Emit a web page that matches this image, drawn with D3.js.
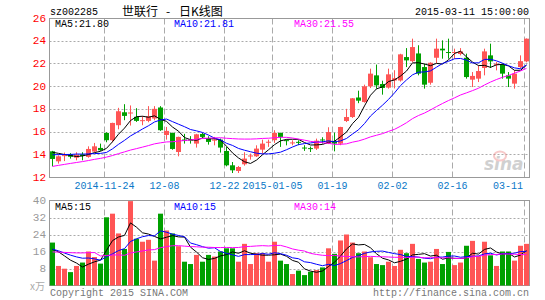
<!DOCTYPE html>
<html>
<head>
<meta charset="utf-8">
<script src="https://cdn.jsdelivr.net/npm/d3@7"></script>
<style>
body{margin:0;background:#fff;}
svg{display:block;}
text{font-family:"Liberation Mono","DejaVu Sans Mono",monospace;font-size:10px;}
</style>
</head>
<body>
<svg id="chart" width="545" height="300"></svg>
<script>

// trading days shown (80 sessions)
var dates = [
    "2014-11-11","2014-11-12","2014-11-13","2014-11-14","2014-11-17","2014-11-18","2014-11-19","2014-11-20","2014-11-21",
    "2014-11-24","2014-11-25","2014-11-26","2014-11-27","2014-11-28",
    "2014-12-01","2014-12-02","2014-12-03","2014-12-04","2014-12-05",
    "2014-12-08","2014-12-09","2014-12-10","2014-12-11","2014-12-12",
    "2014-12-15","2014-12-16","2014-12-17","2014-12-18","2014-12-19",
    "2014-12-22","2014-12-23","2014-12-24","2014-12-25","2014-12-26",
    "2014-12-29","2014-12-30","2014-12-31",
    "2015-01-05","2015-01-06","2015-01-07","2015-01-08","2015-01-09",
    "2015-01-12","2015-01-13","2015-01-14","2015-01-15","2015-01-16",
    "2015-01-19","2015-01-20","2015-01-21","2015-01-22","2015-01-23",
    "2015-01-26","2015-01-27","2015-01-28","2015-01-29","2015-01-30",
    "2015-02-02","2015-02-03","2015-02-04","2015-02-05","2015-02-06",
    "2015-02-09","2015-02-10","2015-02-11","2015-02-12","2015-02-13",
    "2015-02-16","2015-02-17","2015-02-25","2015-02-26","2015-02-27",
    "2015-03-02","2015-03-03","2015-03-04","2015-03-05","2015-03-06",
    "2015-03-09","2015-03-10","2015-03-11"
];

var open = [14.26,13.38,13.8,14.0,13.7,14.0,13.77,14.24,14.56,15.88,
    15.24,16.56,17.7,17.59,17.3,16.92,16.94,17.15,18.12,15.7,
    15.88,14.2,15.3,15.3,14.94,15.79,15.44,15.2,15.29,14.29,
    13.03,12.53,13.12,13.8,13.82,14.41,15.0,15.24,15.88,15.2,
    14.95,15.05,14.55,14.5,14.5,15.26,14.94,15.14,14.94,16.93,
    17.28,19.0,18.6,19.98,20.95,20.19,19.87,20.5,20.5,22.56,
    22.2,22.88,21.68,20.3,22.5,23.3,22.96,22.9,22.83,22.5,
    20.57,20.66,21.6,22.71,21.86,21.89,20.95,20.22,21.68,22.18];

var high = [14.3,13.9,14.15,14.1,14.18,14.18,14.7,15.0,14.94,15.94,
    16.78,18.09,18.41,18.3,18.06,17.35,18.24,18.24,18.24,16.41,
    15.9,15.55,15.8,15.6,15.8,15.88,15.59,15.53,15.38,14.65,
    13.32,12.97,14.18,14.06,14.79,15.29,15.29,16.12,15.9,15.29,
    15.23,15.23,14.8,14.68,15.38,15.5,16.38,15.9,16.42,18.0,
    18.95,19.6,20.13,21.54,21.9,20.48,21.54,21.4,22.85,23.35,
    24.18,23.6,21.98,22.1,24.18,24.03,24.18,23.3,23.35,22.86,
    21.24,21.83,23.3,23.74,22.12,21.98,21.24,21.39,22.71,24.2];

var low = [12.94,13.18,13.4,13.62,13.47,13.47,13.7,14.18,14.3,15.06,
    15.06,16.2,17.0,16.53,16.85,16.56,16.82,17.0,16.06,15.29,
    14.4,13.82,14.94,14.94,14.59,15.44,14.85,14.79,14.15,12.94,
    12.35,12.35,13.0,13.53,13.76,14.06,14.65,15.0,14.65,14.79,
    14.8,14.8,14.3,14.2,14.38,14.94,14.9,14.26,14.8,16.84,
    17.2,18.5,18.55,19.83,19.78,19.25,19.78,19.8,20.4,21.68,
    22.1,20.95,19.78,20.13,22.0,22.42,22.42,22.42,22.71,20.66,
    19.92,20.36,20.95,21.6,21.39,20.66,19.92,19.78,21.54,22.1];

var close = [13.59,13.82,13.88,13.78,13.94,13.85,14.47,14.7,14.35,15.24,
    16.76,17.79,17.38,17.68,16.94,16.96,17.35,18.0,16.12,16.06,
    14.47,15.53,15.18,15.2,15.76,15.53,15.09,15.3,14.59,13.03,
    12.59,12.88,13.62,13.85,14.5,14.94,15.06,15.88,15.53,15.15,
    15.0,15.0,14.5,14.44,15.2,15.2,15.96,14.94,16.4,17.28,
    18.93,18.72,19.98,21.1,20.07,19.84,21.04,20.7,22.8,22.27,
    23.44,21.1,20.13,22.06,23.3,23.15,22.9,22.96,23.06,20.8,
    20.9,21.33,23.06,22.18,21.92,21.1,20.66,21.1,22.2,24.18];

// volume, in 10k lots (x万)
var volume = [20.2,9.2,7.9,6.3,9.2,10.8,16.0,13.4,10.3,32.1,
    33.8,24.5,17.2,39.7,22.0,20.6,21.5,11.7,33.8,25.9,
    24.5,18.5,11.2,10.1,14.4,11.2,14.4,13.6,16.0,17.5,
    17.5,11.2,19.6,10.1,15.2,15.2,11.2,20.6,11.7,10.1,
    5.4,7.0,4.9,6.5,7.3,8.5,17.5,14.9,21.2,24.0,
    20.2,15.2,16.0,13.3,10.1,9.6,11.2,9.2,16.8,15.2,
    19.6,12.5,10.8,11.2,17.2,10.1,15.8,9.6,10.8,18.7,
    21.0,13.8,20.6,14.2,9.2,16.0,16.0,11.7,18.7,19.6];

// sessions before the window: only feed the moving averages
var priorClose = [11.1,11.3,11.2,11.5,11.4,11.7,11.6,11.8,11.9,
    12.6,12.8,12.7,12.9,13.1,13.0,13.2,13.5,13.4,13.7,
    14.0,13.7,13.8,13.7,13.6,13.9,14.3,14.4,14.2,14.4];
var priorVolume = [11,12.5,10.8,12,11.5,12.2,11.8,58.3,25,28,22,23.6,
    7,6.5,7.5,6.8,7.2,6.3,11,12,17,18.5,16,17.5,17,15,17.5,16.3,16];

var priceTicks = [12,14,16,18,20,22,24,26];
var volumeTicks = [8,16,24,32,40];
var tickDates = ["2014-11-24","2014-12-08","2014-12-22","2015-01-05","2015-01-19","2015-02-02","2015-02-16","2015-03-11"];
var tickLabels = ["2014-11-24","12-08","12-22","2015-01-05","01-19","02-02","02-16","03-11"];

var maPeriods = [5,10,30];
var maColors = ["#000000","#0000ff","#ff00ff"];
var priceMaText = ["MA5:21.80","MA10:21.81","MA30:21.55"];
var volumeMaText = ["MA5:15","MA10:15","MA30:14"];

var UP = "#ff5555", DOWN = "#00a000", FRAME = "#999999", GRID = "#aaaaaa";

var svg = d3.select("#chart");

var L = 49.5, R = 529.5;
var pTop = 18.5, pBot = 177.5;
var vTop = 200.5, vBot = 285.5;

var x = d3.scaleBand().domain(dates).range([L, R]).paddingInner(0).paddingOuter(0);
var y = d3.scaleLinear().domain([12, 26]).range([177, 18]);
var yv = d3.scaleLinear().domain([0, 40]).range([285.5, 200.5]);
var cx = function(d){ return x(d) + 3; };

// moving average over the prior history + visible window
function movingAvg(series, prior, n){
    var all = prior.concat(series);
    var off = prior.length;
    return series.map(function(v, i){
	var s = 0;
	for(var k = off + i - n + 1; k <= off + i; k++){ s += all[k]; }
	return s / n;
    });
}

// ---- grid lines (both panels)
var grid = svg.append("g");
grid.selectAll(".hp").data(priceTicks.filter(function(t){return t > 12 && t < 26;}))
    .enter().append("line")
    .attr("x1", L).attr("x2", R)
    .attr("y1", function(d){return Math.round(y(d)) + 0.5;})
    .attr("y2", function(d){return Math.round(y(d)) + 0.5;})
    .attr("stroke", GRID).attr("stroke-dasharray", "2,2");

grid.selectAll(".hv").data(volumeTicks.filter(function(t){return t < 40;}))
    .enter().append("line")
    .attr("x1", L).attr("x2", R)
    .attr("y1", function(d){return Math.round(yv(d)) + 0.5;})
    .attr("y2", function(d){return Math.round(yv(d)) + 0.5;})
    .attr("stroke", GRID).attr("stroke-dasharray", "2,2");

[[pTop, pBot], [vTop, vBot]].forEach(function(span){
    grid.selectAll(null).data(tickDates).enter().append("line")
	.attr("x1", function(d){return x(d) + 1;})
	.attr("x2", function(d){return x(d) + 1;})
	.attr("y1", span[0]).attr("y2", span[1])
	.attr("stroke", GRID).attr("stroke-dasharray", "6,3");
});

// ---- frames
[[pTop, pBot], [vTop, vBot]].forEach(function(span){
    svg.append("rect")
	.attr("x", L).attr("y", span[0])
	.attr("width", R - L).attr("height", span[1] - span[0])
	.attr("fill", "none").attr("stroke", FRAME);
});

// ---- watermark
var wm = svg.append("g").attr("opacity", 0.45);
wm.append("text").attr("x", 484).attr("y", 170)
    .style("font-family", "'DejaVu Sans',sans-serif").style("font-size", "17px")
    .style("font-weight", "bold").style("font-style", "italic")
    .attr("fill", "#999").text("sina");
wm.append("ellipse").attr("cx", 500).attr("cy", 156).attr("rx", 6).attr("ry", 4.5)
    .attr("fill", "none").attr("stroke", "#e88").attr("stroke-width", 2);

// ---- candles
var candles = svg.append("g");
dates.forEach(function(d, i){
    var up = close[i] >= open[i];
    var col = up ? UP : DOWN;
    candles.append("line")
	.attr("x1", cx(d)).attr("x2", cx(d))
	.attr("y1", y(high[i])).attr("y2", y(low[i]))
	.attr("stroke", col);
    var top = y(Math.max(open[i], close[i]));
    var h = Math.abs(y(open[i]) - y(close[i]));
    candles.append("rect")
	.attr("x", x(d) + 0.5).attr("width", 5)
	.attr("y", h < 1 ? top - 0.5 : top).attr("height", Math.max(1, h))
	.attr("fill", col);
});

// ---- volume bars
svg.append("g").selectAll("rect").data(dates).enter().append("rect")
    .attr("x", function(d){return x(d) + 0.5;})
    .attr("width", 5)
    .attr("y", function(d, i){return yv(volume[i]);})
    .attr("height", function(d, i){return yv(0) - yv(volume[i]);})
    .attr("fill", function(d, i){return close[i] >= open[i] ? UP : DOWN;});

// ---- moving average lines
maPeriods.forEach(function(n, k){
    var pm = movingAvg(close, priorClose, n);
    var vm = movingAvg(volume, priorVolume, n);
    svg.append("path").datum(pm)
	.attr("d", d3.line().x(function(v, i){return cx(dates[i]);}).y(function(v){return y(v);}))
	.attr("fill", "none").attr("stroke", maColors[k]).attr("stroke-width", 1);
    svg.append("path").datum(vm)
	.attr("d", d3.line().x(function(v, i){return cx(dates[i]);}).y(function(v){return yv(v);}))
	.attr("fill", "none").attr("stroke", maColors[k]).attr("stroke-width", 1);
});

// ---- axis labels
svg.append("g").selectAll("text").data(priceTicks).enter().append("text")
    .attr("x", 46).attr("y", function(d){return y(d) + 3.5;})
    .attr("text-anchor", "end").attr("fill", "#ff0000")
    .style("font-size", "11px").text(function(d){return d;});

svg.append("g").selectAll("text").data(volumeTicks).enter().append("text")
    .attr("x", 46).attr("y", function(d){return yv(d) + 3.5;})
    .attr("text-anchor", "end").attr("fill", "#999")
    .style("font-size", "11px").text(function(d){return d;});

svg.append("g").selectAll("text").data(tickDates).enter().append("text")
    .attr("x", function(d, i){
	var w = tickLabels[i].length * 6;
	return Math.min(x(d) + 1, 523 - w / 2);
    })
    .attr("y", 189).attr("text-anchor", "middle").attr("fill", "#0a78c8")
    .text(function(d, i){return tickLabels[i];});

// ---- header texts
var maX = [55, 174, 294];
priceMaText.forEach(function(t, k){
    svg.append("text").attr("x", maX[k]).attr("y", 27).attr("fill", maColors[k]).text(t);
});
volumeMaText.forEach(function(t, k){
    svg.append("text").attr("x", maX[k]).attr("y", 210).attr("fill", maColors[k]).text(t);
});

svg.append("text").attr("x", 50).attr("y", 15).attr("fill", "#000").text("sz002285");
var title = svg.append("text").attr("y", 16).attr("fill", "#000")
    .style("font-family", "'Noto Sans CJK SC',sans-serif").style("font-size", "12px");
title.append("tspan").attr("x", 122).text("世联行");
title.append("tspan").attr("x", 166).text("-");
title.append("tspan").attr("x", 179).text("日K线图");
svg.append("text").attr("x", 529).attr("y", 15).attr("text-anchor", "end").attr("fill", "#000")
    .text("2015-03-11 15:00:00");

// ---- footer
svg.append("text").attr("x", 30).attr("y", 290).attr("fill", "#aaa")
    .style("font-family", "'Noto Sans CJK SC',sans-serif").style("font-size", "10px").text("x万");
svg.append("text").attr("x", 50).attr("y", 296).attr("fill", "#777").text("Copyright 2015 SINA.COM");
svg.append("text").attr("x", 529).attr("y", 296).attr("text-anchor", "end").attr("fill", "#777")
    .text("http://finance.sina.com.cn");

</script>
</body>
</html>
